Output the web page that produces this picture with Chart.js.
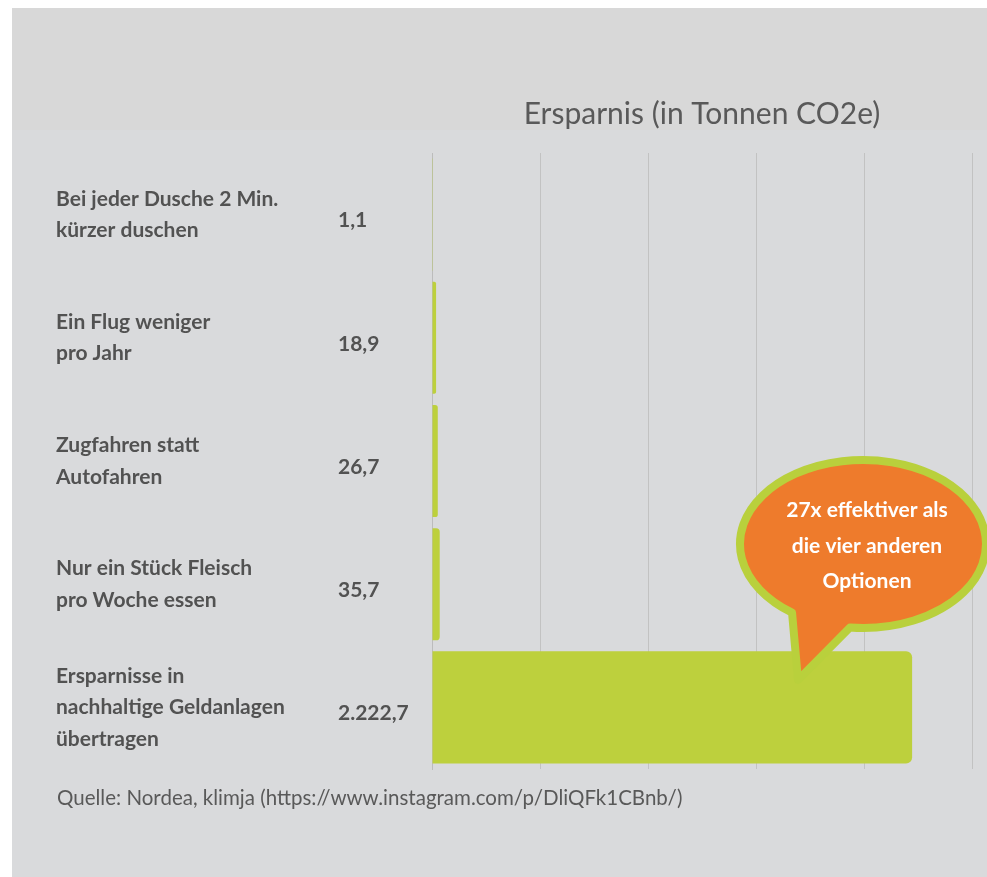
<!DOCTYPE html>
<html lang="de">
<head>
<meta charset="utf-8">
<title>Ersparnis (in Tonnen CO2e)</title>
<script src="https://cdn.jsdelivr.net/npm/chart.js@4"></script>
<style>
  html, body { margin: 0; padding: 0; background: #ffffff; }
  #panel {
    position: absolute; left: 12px; top: 8px; width: 975px; height: 869px;
    background: linear-gradient(#d8d8d8 0, #d8d8d8 122px, #d9dadc 122px, #d9dadc 100%);
  }
  #savingsChart { position: absolute; left: 0; top: 0; }
  #source {
    position: absolute; left: 45px; top: 776px;
    font-family: Lato, sans-serif; font-size: 20.5px; line-height: 26px; color: #595959;
  }
</style>
</head>
<body>
<div id="panel">
  <canvas id="savingsChart" width="975" height="869"></canvas>
  <div id="source">Quelle: Nordea, klimja (https://www.instagram.com/p/DliQFk1CBnb/)</div>
</div>
<script>
// data
const categories = [
  ['Bei jeder Dusche 2 Min.', 'kürzer duschen'],
  ['Ein Flug weniger', 'pro Jahr'],
  ['Zugfahren statt', 'Autofahren'],
  ['Nur ein Stück Fleisch', 'pro Woche essen'],
  ['Ersparnisse in', 'nachhaltige Geldanlagen', 'übertragen']
];
const savings = [1.1, 18.9, 26.7, 35.7, 2222.7];
const valueLabels = ['1,1', '18,9', '26,7', '35,7', '2.222,7'];
const xTicks = [0, 500, 1000, 1500, 2000, 2500];
const chartTitle = 'Ersparnis (in Tonnen CO2e)';
const calloutLines = ['27x effektiver als', 'die vier anderen', 'Optionen'];

const TEXT_GREY = '#525252';
const BAR_GREEN = '#bdd03d';

// title, value column and the speech bubble
const extrasPlugin = {
  id: 'extras',
  afterDraw(chart) {
    const { ctx, chartArea, scales } = chart;
    ctx.save();

    // title centred over the plot
    ctx.fillStyle = '#595959';
    ctx.font = '30px Lato';
    ctx.textAlign = 'center';
    ctx.textBaseline = 'middle';
    ctx.fillText(chartTitle, (chartArea.left + chartArea.right) / 2, 106);

    // value column next to the labels
    ctx.fillStyle = TEXT_GREY;
    ctx.font = 'bold 21px Lato';
    ctx.textAlign = 'left';
    valueLabels.forEach((txt, i) => {
      ctx.fillText(txt, chartArea.left - 94, scales.y.getPixelForValue(i) + 6);
    });

    // speech bubble
    const cx = 851, cy = 536, rx = 123, ry = 84;
    const tip = { x: 786, y: 672 };
    const aLeft = Math.atan2(0.817, -0.577);
    const aRight = Math.atan2(0.994, -0.106);
    ctx.beginPath();
    ctx.ellipse(cx, cy, rx, ry, 0, aLeft, aRight + Math.PI * 2);
    ctx.lineTo(tip.x, tip.y);
    ctx.closePath();
    ctx.fillStyle = '#ee7b2c';
    ctx.fill();
    ctx.lineWidth = 8;
    ctx.lineJoin = 'round';
    ctx.strokeStyle = '#b9d03c';
    ctx.stroke();

    ctx.fillStyle = '#ffffff';
    ctx.font = 'bold 21px Lato';
    ctx.textAlign = 'center';
    const lineY = [502, 538, 573];
    calloutLines.forEach((txt, i) => ctx.fillText(txt, cx + 4, lineY[i]));

    ctx.restore();
  }
};

function createSavingsChart() {
  const ctx = document.getElementById('savingsChart');
  if (!ctx) return;

  new Chart(ctx, {
    type: 'bar',
    data: {
      labels: categories,
      datasets: [{
        data: savings,
        backgroundColor: BAR_GREEN,
        borderWidth: 0,
        borderRadius: 6,
        borderSkipped: 'start',
        categoryPercentage: 1,
        barPercentage: 0.91
      }]
    },
    options: {
      indexAxis: 'y',
      responsive: false,
      animation: false,
      layout: { padding: { top: 145, right: 15, bottom: 108, left: 44 } },
      plugins: {
        legend: { display: false },
        title: { display: false },
        tooltip: { enabled: false }
      },
      scales: {
        x: {
          min: xTicks[0],
          max: xTicks[xTicks.length - 1],
          afterBuildTicks(scale) {
            scale.ticks = xTicks.map(v => ({ value: v }));
          },
          ticks: { display: false },
          grid: { color: '#c2c2c2', lineWidth: 1, drawTicks: false },
          border: { display: false }
        },
        y: {
          afterFit(scale) { scale.width = 376; },
          grid: { display: false },
          border: { display: true, color: '#bcbcbc', width: 1 },
          ticks: {
            color: TEXT_GREY,
            crossAlign: 'far',
            font: { family: 'Lato', size: 21, weight: 'bold', lineHeight: 1.5 }
          }
        }
      }
    },
    plugins: [extrasPlugin]
  });
}

createSavingsChart();
</script>
</body>
</html>
